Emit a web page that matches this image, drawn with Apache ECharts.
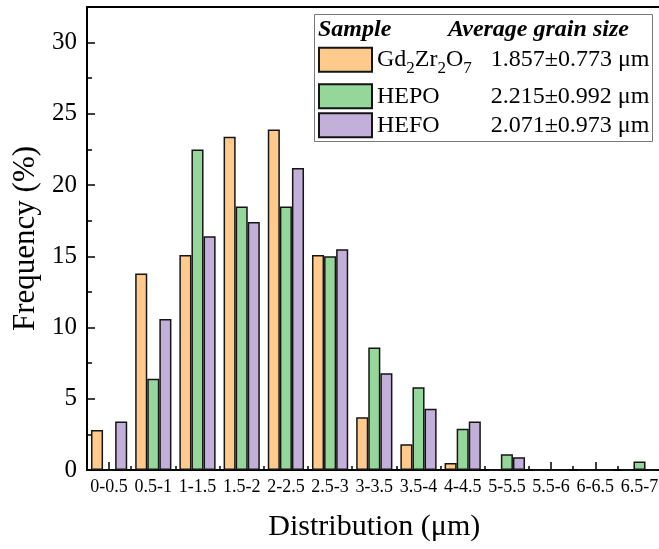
<!DOCTYPE html>
<html>
<head>
<meta charset="utf-8">
<script src="https://cdn.jsdelivr.net/npm/echarts@6/dist/echarts.min.js"></script>
<style>
html,body{margin:0;padding:0;background:#fff;}
#chart{width:659px;height:549px;}
</style>
</head>
<body>
<div id="chart"></div>
<script>
const categories = ['0-0.5','0.5-1','1-1.5','1.5-2','2-2.5','2.5-3','3-3.5','3.5-4','4-4.5','5-5.5','5.5-6','6-6.5','6.5-7'];
const gzoValues  = [2.8, 13.8, 15.1, 23.4, 23.9, 15.1, 3.7, 1.8, 0.5, 0, 0, 0, 0];
const hepoValues = [0, 6.4, 22.5, 18.5, 18.5, 15.0, 8.6, 5.8, 2.9, 1.1, 0, 0, 0.6];
const hefoValues = [3.4, 10.6, 16.4, 17.4, 21.2, 15.5, 6.8, 4.3, 3.4, 0.9, 0, 0, 0];
const seriesNames = ['Gd2Zr2O7', 'HEPO', 'HEFO'];
const grainSizes = ['1.857±0.773 μm', '2.215±0.992 μm', '2.071±0.973 μm'];
const yTicks = [0, 5, 10, 15, 20, 25, 30];

const FONT = '"Liberation Serif", "Times New Roman", serif';
const colors = ['#FFCA8C', '#95D69A', '#C2B0DA'];

const mctx = document.createElement('canvas').getContext('2d');
function tw(t, size) { mctx.font = size + 'px "Liberation Serif"'; return mctx.measureText(t).width; }
const NAME_COL = 114;
function legendLabel(name) {
  const idx = seriesNames.indexOf(name);
  let parts, used;
  if (name === 'Gd2Zr2O7') {
    parts = '{n|Gd}{s|2}{n|Zr}{s|2}{n|O}{s|7}';
    used = tw('Gd',24) + tw('Zr',24) + tw('O',24) + 3*tw('2',17);
  } else {
    parts = '{n|' + name + '}';
    used = tw(name, 24);
  }
  const g = Math.max(2, Math.min(150, Math.round(NAME_COL - used)));
  return parts + '{g' + g + '| }' + '{v|' + grainSizes[idx] + '}';
}
const richBase = {
  n: {fontSize: 24, lineHeight: 24, fontFamily: FONT, color: '#000', verticalAlign: 'middle'},
  s: {fontSize: 17, lineHeight: 17, fontFamily: FONT, color: '#000', padding: [18,0,0,0], verticalAlign: 'middle'},
  v: {fontSize: 24, lineHeight: 24, fontFamily: FONT, color: '#000', verticalAlign: 'middle'}
};
for (let w = 1; w <= 150; w++) richBase['g' + w] = {width: w, fontSize: 24, lineHeight: 24, fontFamily: FONT};

const chart = echarts.init(document.getElementById('chart'), null, {renderer: 'canvas'});
const legendTops = [42.2, 83.3, 112.3];

const barStyle = (c) => ({color: c, borderColor: '#151515', borderWidth: 1.5});

chart.setOption({
  animation: false,
  backgroundColor: '#fff',
  grid: {left: 87, top: 7, width: 574.6, height: 463, show: false, containLabel: false, outerBoundsMode: 'none'},
  graphic: [
    {type: 'rect', z: 1, shape: {x: 314.5, y: 14.5, width: 338, height: 127}, style: {fill: '#fff', stroke: '#777', lineWidth: 1}},
    {type: 'text', z: 2, x: 318, y: 30, style: {text: 'Sample', font: 'italic bold 24px "Liberation Serif"', fill: '#000', verticalAlign: 'middle'}},
    {type: 'text', z: 2, x: 448, y: 30, style: {text: 'Average grain size', font: 'italic bold 24px "Liberation Serif"', fill: '#000', verticalAlign: 'middle'}}
  ],
  legend: seriesNames.map((nm, i) => ({
    data: [nm],
    left: 318, top: legendTops[i],
    orient: 'vertical',
    itemWidth: 53, itemHeight: 24,
    icon: 'rect',
    padding: 0,
    z: 10,
    selectedMode: false,
    formatter: legendLabel,
    textStyle: {rich: richBase, fontFamily: FONT, fontSize: 24, color: '#000'}
  })),
  xAxis: [
    {
      type: 'category', data: categories, position: 'bottom',
      name: 'Distribution (μm)', nameLocation: 'middle', nameGap: 42,
      nameTextStyle: {fontFamily: FONT, fontSize: 30, color: '#000'},
      axisLine: {show: true, lineStyle: {color: '#000', width: 2}},
      axisTick: {show: true, inside: true, alignWithLabel: true, length: 8, lineStyle: {color: '#000', width: 1.5}},
      axisLabel: {show: true, interval: 0, margin: 8, fontFamily: FONT, fontSize: 18, color: '#000'},
      splitLine: {show: false}
    },
    {
      type: 'category', data: categories, position: 'bottom',
      axisLine: {show: false},
      axisTick: {show: true, inside: true, interval: 0, length: 4, lineStyle: {color: '#000', width: 1.5}},
      axisLabel: {show: false},
      splitLine: {show: false}
    },
    {
      type: 'category', data: categories, position: 'top',
      axisLine: {show: true, lineStyle: {color: '#000', width: 2}},
      axisTick: {show: false},
      axisLabel: {show: false},
      splitLine: {show: false}
    }
  ],
  yAxis: [
    {
      type: 'value', min: 0, max: 32.5, interval: 5, position: 'left',
      name: 'Frequency (%)', nameLocation: 'middle', nameGap: 42,
      nameTextStyle: {fontFamily: FONT, fontSize: 31, color: '#000'},
      axisLine: {show: true, lineStyle: {color: '#000', width: 2}},
      axisTick: {show: true, inside: true, length: 8, lineStyle: {color: '#000', width: 1.5}},
      axisLabel: {show: true, margin: 10, fontFamily: FONT, fontSize: 25, color: '#000', showMaxLabel: false,
        formatter: (v) => yTicks.indexOf(v) >= 0 ? String(v) : ''},
      splitLine: {show: false}
    },
    {
      type: 'value', min: 0, max: 32.5, interval: 2.5, position: 'left',
      axisLine: {show: false},
      axisTick: {show: true, inside: true, length: 5, lineStyle: {color: '#000', width: 1.5}},
      axisLabel: {show: false},
      splitLine: {show: false}
    }
  ],
  series: [
    {name: seriesNames[0], type: 'bar', data: gzoValues, itemStyle: barStyle(colors[0]), barGap: '0%', barCategoryGap: '18%'},
    {name: seriesNames[1], type: 'bar', data: hepoValues, itemStyle: barStyle(colors[1]), barGap: '0%', barCategoryGap: '18%'},
    {name: seriesNames[2], type: 'bar', data: hefoValues, itemStyle: barStyle(colors[2]), barGap: '0%', barCategoryGap: '18%'}
  ]
});
</script>
</body>
</html>
